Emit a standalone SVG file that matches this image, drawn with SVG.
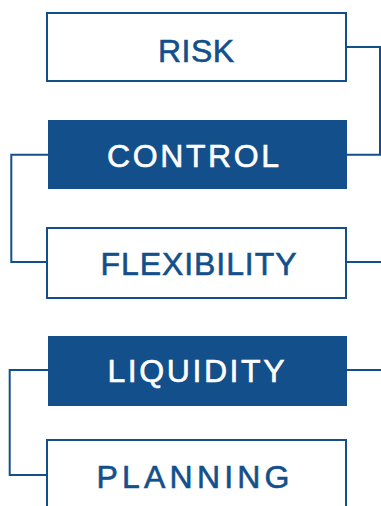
<svg xmlns="http://www.w3.org/2000/svg" width="381" height="506" viewBox="0 0 381 506">
<style>
.box{fill:#fff;stroke:#13508b;stroke-width:2}
.fill{fill:#13508b}
.lbl{font-family:"Liberation Sans",Arial,sans-serif;font-size:32px;text-anchor:middle;fill:#13508b;stroke:#13508b;stroke-width:0.6}
.inv{fill:#fff;stroke:#fff}
.con{fill:none;stroke:#13508b;stroke-width:2}
</style>
<rect width="381" height="506" fill="#fff"/>
<g id="connectors">
<path class="con" d="M346 47H380V154.7H347"/>
<path class="con" d="M48 154.7H11.3V262H47"/>
<path class="con" d="M347 262H381"/>
<path class="con" d="M347 370H381"/>
<path class="con" d="M48 370H9.7V475H47"/>
</g>
<g id="risk">
<rect class="box" x="47" y="13" width="299" height="68"/>
<text class="lbl" x="196" y="62" textLength="76" lengthAdjust="spacing">RISK</text>
</g>
<g id="control">
<rect class="fill" x="48" y="120" width="299" height="69"/>
<text class="lbl inv" x="193" y="167" textLength="172" lengthAdjust="spacing">CONTROL</text>
</g>
<g id="flexibility">
<rect class="box" x="47" y="228" width="299" height="70"/>
<text class="lbl" x="198.5" y="275" textLength="196" lengthAdjust="spacing">FLEXIBILITY</text>
</g>
<g id="liquidity">
<rect class="fill" x="48" y="336" width="299" height="70"/>
<text class="lbl inv" x="196" y="382" textLength="177" lengthAdjust="spacing">LIQUIDITY</text>
</g>
<g id="planning">
<rect class="box" x="47" y="440" width="299" height="80"/>
<text class="lbl" x="193" y="488" textLength="193" lengthAdjust="spacing">PLANNING</text>
</g>
</svg>
